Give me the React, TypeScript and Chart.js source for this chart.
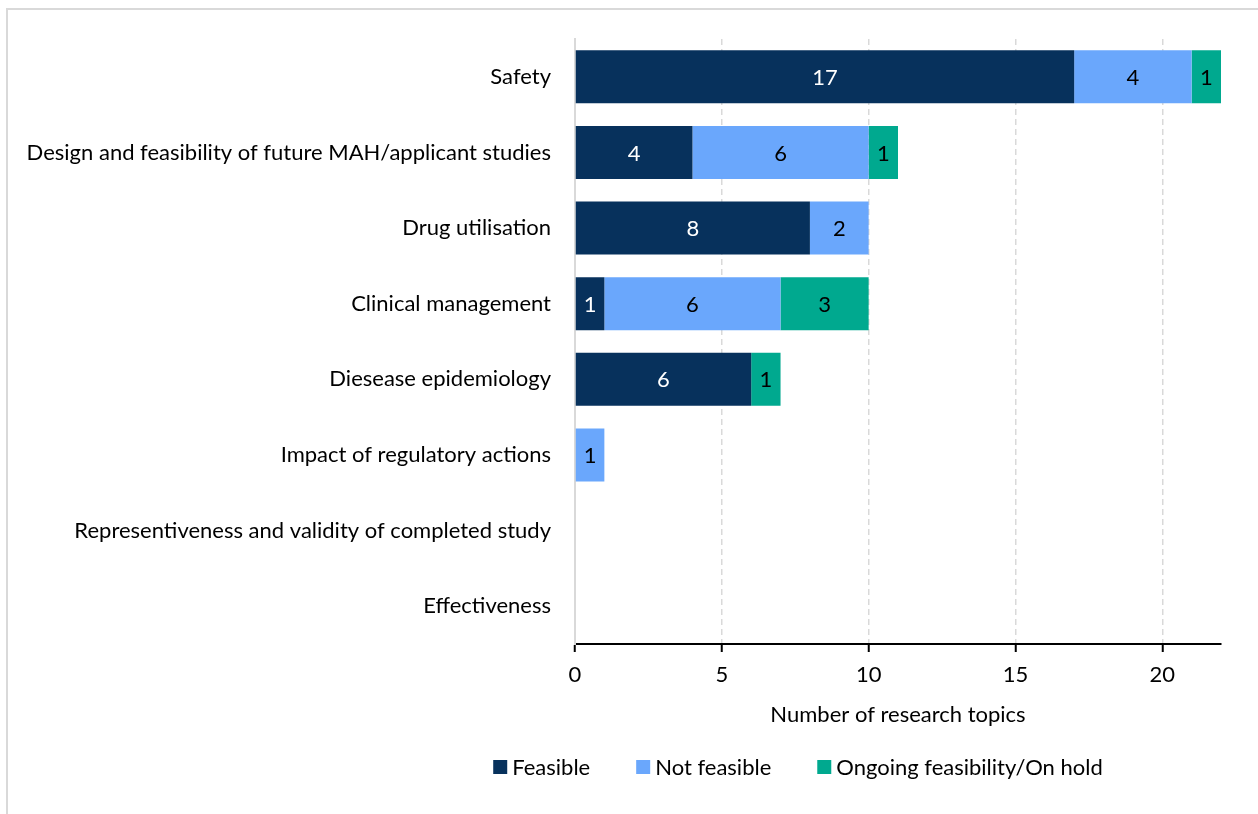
import React, { useEffect, useRef } from "react";
import { Chart, registerables } from "chart.js";

Chart.register(...registerables);

const categories = [
  "Safety",
  "Design and feasibility of future MAH/applicant studies",
  "Drug utilisation",
  "Clinical management",
  "Diesease epidemiology",
  "Impact of regulatory actions",
  "Representiveness and validity of completed study",
  "Effectiveness",
];
const feasible = [17, 4, 8, 1, 6, 0, 0, 0];
const notFeasible = [4, 6, 2, 6, 0, 1, 0, 0];
const ongoing = [1, 1, 0, 3, 1, 0, 0, 0];
const xTicks = [0, 5, 10, 15, 20];
const seriesNames = ["Feasible", "Not feasible", "Ongoing feasibility/On hold"];
const seriesColors = ["#07315C", "#6AA7FC", "#00A98F"];
const labelColors = ["#FFFFFF", "#000000", "#000000"];
const xTitle = "Number of research topics";

const FONT = "Lato, 'Open Sans', sans-serif";
const FS = 22;

const valueLabels = {
  id: "valueLabels",
  afterDatasetsDraw(chart: any) {
    const ctx = chart.ctx;
    ctx.save();
    ctx.font = `${FS}px ${FONT}`;
    ctx.textAlign = "center";
    ctx.textBaseline = "middle";
    chart.data.datasets.forEach((ds: any, di: number) => {
      const meta = chart.getDatasetMeta(di);
      meta.data.forEach((bar: any, i: number) => {
        const v = ds.data[i];
        if (!v) return;
        const cx = (bar.x + bar.base) / 2;
        ctx.fillStyle = labelColors[di];
        ctx.fillText(String(v), cx, bar.y + 1);
      });
    });
    ctx.restore();
  },
};

const customLegend = {
  id: "customLegend",
  afterDraw(chart: any, _args: any, opts: any) {
    const ctx = chart.ctx;
    ctx.save();
    ctx.font = `${FS}px ${FONT}`;
    ctx.textBaseline = "middle";
    ctx.textAlign = "left";
    const box = 14;
    const boxGap = 5;
    const itemGap = 46;
    const widths = seriesNames.map((n) => box + boxGap + ctx.measureText(n).width);
    const total = widths.reduce((a, b) => a + b, 0) + itemGap * (widths.length - 1);
    let x = opts.centerX - total / 2;
    const y = opts.y;
    seriesNames.forEach((n, i) => {
      ctx.fillStyle = seriesColors[i];
      ctx.fillRect(x, y - box / 2, box, box);
      ctx.fillStyle = "#000";
      ctx.fillText(n, x + box + boxGap, y + 1);
      x += widths[i] + itemGap;
    });
    ctx.restore();
  },
};

export default function App() {
  const ref = useRef<HTMLCanvasElement>(null);
  useEffect(() => {
    if (!ref.current) return;
    const data = [feasible, notFeasible, ongoing];
    const chart = new Chart(ref.current, {
      type: "bar",
      data: {
        labels: categories,
        datasets: data.map((d, i) => ({
          label: seriesNames[i],
          data: d,
          backgroundColor: seriesColors[i],
          borderWidth: 0,
          barPercentage: 0.7,
          categoryPercentage: 1,
        })),
      },
      options: {
        indexAxis: "y",
        animation: false,
        responsive: false,
        maintainAspectRatio: false,
        layout: { padding: { top: 39, right: 37, left: 0, bottom: 0 } },
        plugins: {
          legend: { display: false },
          tooltip: { enabled: false },
          customLegend: { centerX: 798, y: 767 },
        } as any,
        scales: {
          x: {
            stacked: true,
            min: 0,
            max: 22,
            afterBuildTicks: (s: any) => {
              s.ticks = xTicks.map((v) => ({ value: v }));
            },
            ticks: {
              color: "#000",
              font: { family: FONT, size: FS },
              padding: 10,
              maxRotation: 0,
            },
            grid: {
              color: "#D9D9D9",
              lineWidth: 1.5,
              tickColor: "#000",
              tickLength: 8,
              tickWidth: 2,
            },
            border: {
              display: true,
              color: "#000",
              width: 2,
              dash: (c: any) => (c.index === 0 ? [] : [6, 4]),
            } as any,
            title: {
              display: true,
              text: xTitle,
              color: "#000",
              font: { family: FONT, size: FS },
              padding: { top: 0, bottom: 86 },
            },
            afterFit: (s: any) => {
              s.height = 814 - 644;
            },
          },
          y: {
            stacked: true,
            ticks: {
              color: "#000",
              font: { family: FONT, size: FS },
              padding: 24,
              autoSkip: false,
            },
            grid: { display: false, drawTicks: false },
            border: { display: true, color: "#D9D9D9", width: 2 },
            afterFit: (s: any) => {
              s.width = 575;
            },
          },
        },
      },
      plugins: [valueLabels, customLegend],
    });
    return () => chart.destroy();
  }, []);

  return (
    <div style={{ position: "fixed", left: 0, top: 0, width: 1258, height: 814, background: "#fff", overflow: "hidden" }}>
      <div
        style={{
          position: "absolute",
          left: 6,
          top: 8,
          width: 1400,
          height: 1000,
          borderTop: "2px solid #D9D9D9",
          borderLeft: "2px solid #D9D9D9",
        }}
      />
      <canvas ref={ref} width={1258} height={814} style={{ position: "absolute", left: 0, top: 0 }} />
    </div>
  );
}
